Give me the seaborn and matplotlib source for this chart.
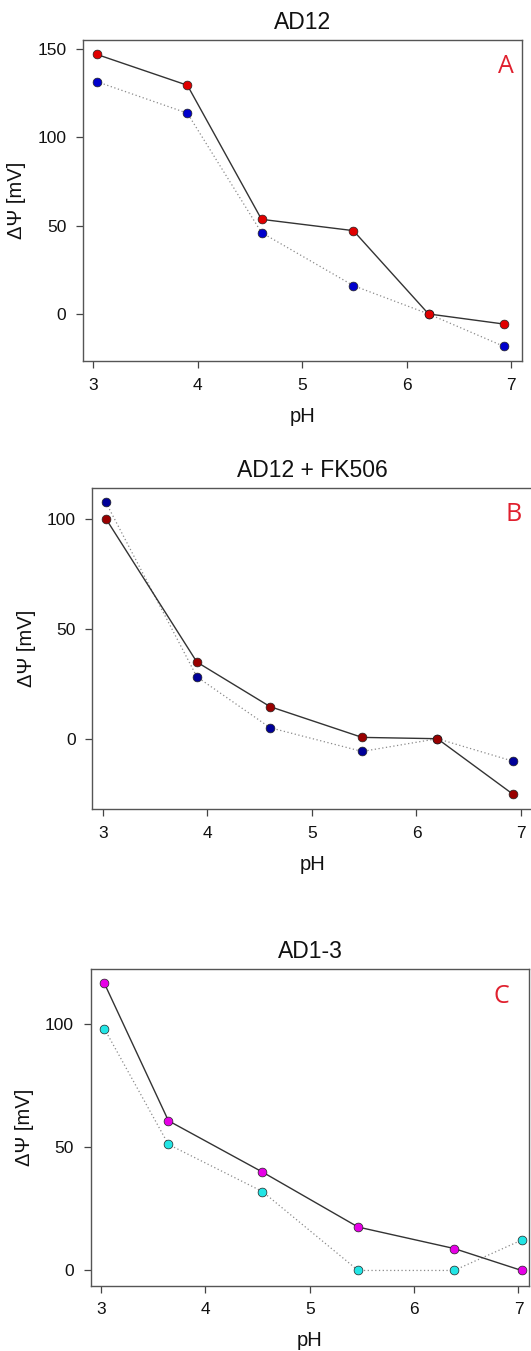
import matplotlib
matplotlib.use("Agg")
import matplotlib.pyplot as plt
import seaborn as sns
import numpy as np

sns.set_theme(style="white")
plt.rcParams['font.family'] = ['Liberation Sans', 'DejaVu Sans']

# Panel A: AD12
ph_a = [3.03, 3.90, 4.61, 5.49, 6.21, 6.93]
a_solid = [146.8, 129.3, 53.5, 47.1, 0.0, -5.7]
a_dotted = [131.4, 113.5, 46.0, 16.0, 0.0, -18.3]

# Panel B: AD12 + FK506
ph_b = [3.03, 3.90, 4.60, 5.48, 6.20, 6.92]
b_solid = [100.2, 34.9, 14.6, 0.6, 0.0, -25.2]
b_dotted = [107.6, 28.2, 5.0, -5.8, 0.0, -10.2]

# Panel C: AD1-3
ph_c = [3.03, 3.645, 4.546, 5.463, 6.383, 7.03]
c_solid = [116.5, 60.7, 39.9, 17.6, 8.9, 0.0]
c_dotted = [98.1, 51.1, 32.0, 0.0, 0.0, 12.3]

titles = ["AD12", "AD12 + FK506", "AD1-3"]
letters = ["A", "B", "C"]
yticks = [[0, 50, 100, 150], [0, 50, 100], [0, 50, 100]]
ylims = [(-26.6, 154.9), (-32.0, 114.3), (-6.2, 122.2)]
xticks = [3, 4, 5, 6, 7]

solid_colors = ["#e00000", "#990000", "#e600e6"]
dotted_colors = ["#0000cc", "#000099", "#22e5e5"]

panels = [
    (ph_a, a_solid, a_dotted),
    (ph_b, b_solid, b_dotted),
    (ph_c, c_solid, c_dotted),
]

# axes rectangles [left, bottom, width, height] in figure fractions
rects = [
    [0.1563, 0.7328, 0.8267, 0.2376],
    [0.1738, 0.4012, 0.8282, 0.2378],
    [0.1708, 0.0483, 0.8262, 0.2344],
]
letter_pos = [(0.963, 0.916), (0.959, 0.918), (0.935, 0.913)]

fig = plt.figure(figsize=(5.31, 13.51), dpi=100)

for i, (ph, s, d) in enumerate(panels):
    ax = fig.add_axes(rects[i])
    sns.lineplot(x=ph, y=d, ax=ax, color="#8a8a8a", lw=0.9, linestyle=(0, (1, 2)),
                 sort=False, estimator=None)
    sns.lineplot(x=ph, y=s, ax=ax, color="#333333", lw=1.0, sort=False, estimator=None)
    sns.scatterplot(x=ph, y=d, ax=ax, color=dotted_colors[i], s=40,
                    edgecolor="#222222", linewidth=0.5, zorder=3)
    sns.scatterplot(x=ph, y=s, ax=ax, color=solid_colors[i], s=40,
                    edgecolor="#222222", linewidth=0.5, zorder=4)
    ax.set_xlim(2.9, 7.105)
    ax.set_ylim(*ylims[i])
    ax.set_xticks(xticks)
    ax.set_yticks(yticks[i])
    ax.tick_params(axis="both", which="both", bottom=True, left=True,
                   direction="out", length=5, width=0.9, color="#444444",
                   labelsize=12.5, pad=7, labelcolor="#111111")
    for sp in ax.spines.values():
        sp.set_color("#555555")
        sp.set_linewidth(1.0)
    ax.set_title(titles[i], fontsize=16.5, pad=8, color="#111111")
    ax.set_xlabel("pH", fontsize=14.5, labelpad=10, color="#111111")
    ax.set_ylabel("ΔΨ [mV]", fontsize=14.5, labelpad=8, color="#111111")
    ax.text(letter_pos[i][0], letter_pos[i][1], letters[i], transform=ax.transAxes,
            color="#e0202e", fontsize=18, family=["Open Sans", "DejaVu Sans"],
            ha="center", va="center")
    ax.set_facecolor("white")

fig.savefig("out.png", dpi=100, facecolor="white")
